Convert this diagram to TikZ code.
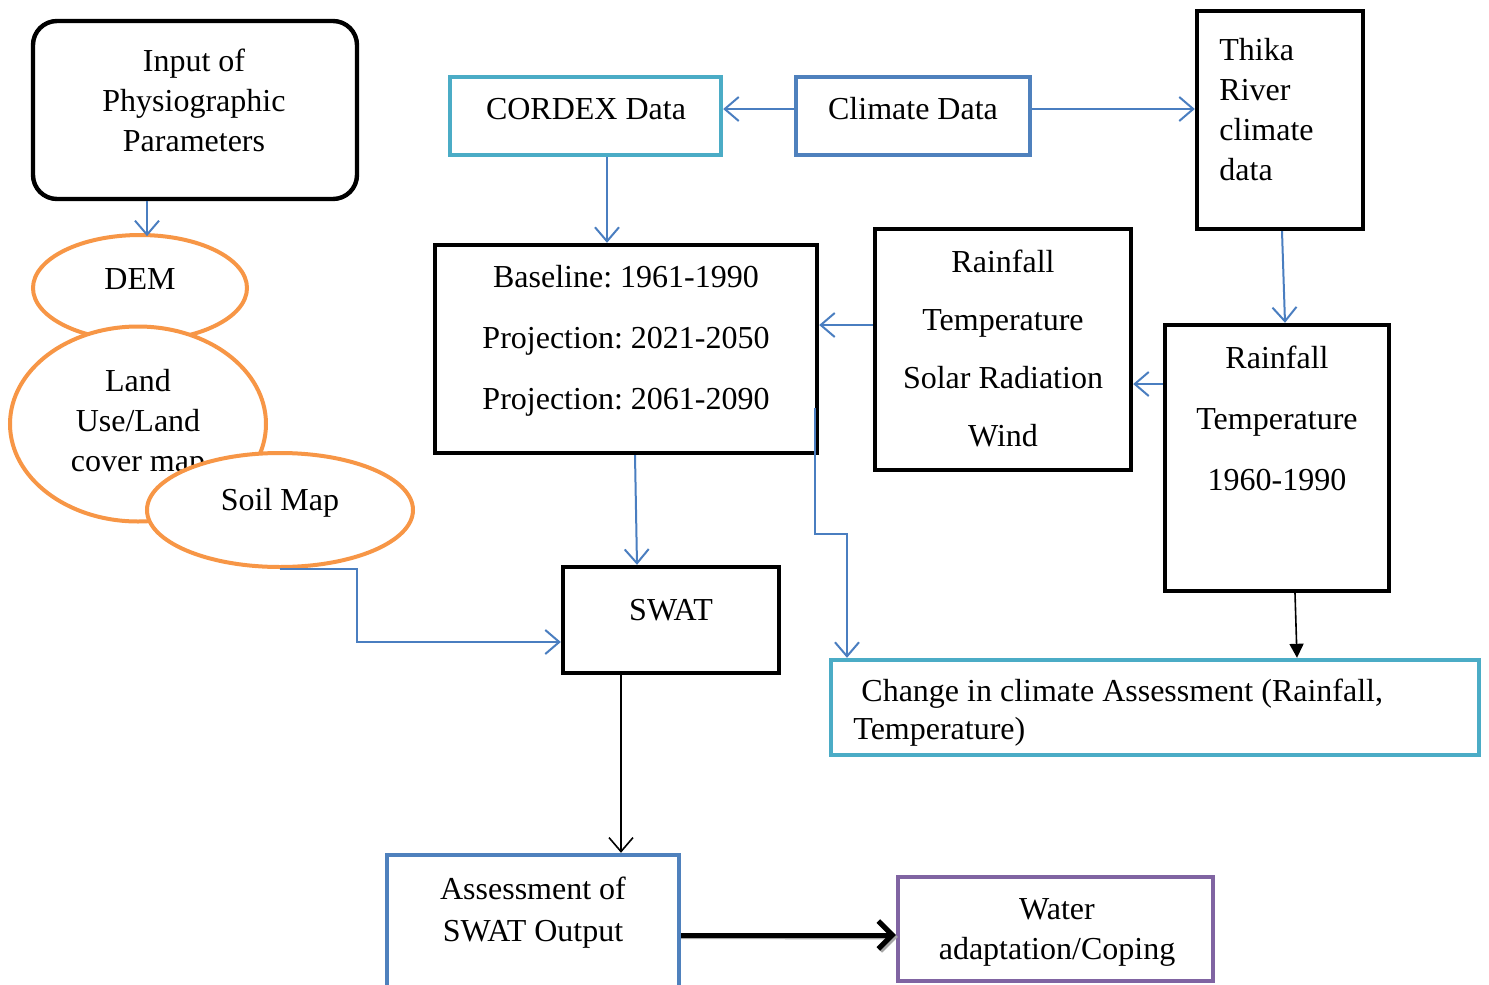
\documentclass[tikz,border=0pt]{standalone}
\usepackage{fontspec}
\setmainfont{Liberation Serif}
\usetikzlibrary{arrows.meta,shapes.geometric,fit,calc}
\definecolor{cyanb}{HTML}{4BACC6}
\definecolor{blueb}{HTML}{4F81BD}
\definecolor{orangeb}{HTML}{F79646}
\definecolor{purpleb}{HTML}{8064A2}
\definecolor{arrowblue}{HTML}{4A7EC0}
\frenchspacing
\begin{document}
\begin{tikzpicture}[x=0.5pt,y=-0.5pt,
  every node/.style={font=\fontsize{16}{20}\selectfont},
  box/.style={draw=#1, line width=2.2pt, inner sep=0pt, fill=white},
  ell/.style={draw=orangeb, line width=2pt, ellipse, fill=white, inner sep=0pt, align=center},
  txt/.style={inner sep=0pt, align=center},
  barrow/.style={draw=arrowblue, line width=1pt, -{Straight Barb[length=7pt,width=12pt,line width=1pt]}},
  karrow/.style={draw=black, line width=0.8pt, -{Straight Barb[length=7pt,width=12pt,line width=0.8pt]}},
  tarrow/.style={draw=black, line width=0.8pt, -{Triangle[length=7pt,width=7pt]}},
  bigarrow/.style={draw=#1, line width=2.5pt, -{Straight Barb[length=7pt,width=14pt,line width=2.5pt]}}
]
\useasboundingbox (0,0) rectangle (1489,985);
\clip (0,0) rectangle (1489,985);

% left column
\node[box=black, rounded corners=12pt, fit={(33,21)(357,199)}] (input) {};
\node[txt] (inputT) at (194,100) {Input of\\Physiographic\\Parameters};

\node[ell, minimum width=107pt, minimum height=53pt] (dem) at (140,288) {};
\node[txt] (demT) at (140,279) {DEM};
\node[ell, minimum width=128pt, minimum height=97.5pt] (land) at (138,424) {Land\\Use/Land\\cover map};
\node[ell, minimum width=133pt, minimum height=57pt] (soil) at (280,510) {};
\node[txt] (soilT) at (280,503) {Soil Map};

% top boxes
\node[box=cyanb, fit={(450,77)(721,155)}] (cordex) {};
\node[txt] (cordexT) at (586,109) {CORDEX Data};
\node[box=blueb, fit={(796,77)(1030,155)}] (climate) {};
\node[txt] (climateT) at (913,109) {Climate Data};
\node[box=black, fit={(1197,11)(1363,229)}] (thika) {};
\node[txt, anchor=west, align=left] (thikaT) at (1219,110) {Thika\\River\\climate\\data};

% middle boxes
\node[box=black, fit={(435,245)(817,453)}] (base) {};
\node[txt, font=\fontsize{16}{30.5}\selectfont] (baseT) at (626,341) {Baseline: 1961-1990\\Projection: 2021-2050\\Projection: 2061-2090};
\node[box=black, fit={(875,229)(1131,470)}] (mid) {};
\node[txt, font=\fontsize{16}{29}\selectfont] (midT) at (1003,348) {Rainfall\\Temperature\\Solar Radiation\\Wind};
\node[box=black, fit={(1165,325)(1389,591)}] (right) {};
\node[txt, font=\fontsize{16}{30.5}\selectfont] (rightT) at (1277,418) {Rainfall\\Temperature\\1960-1990};

% lower boxes
\node[box=black, fit={(563,567)(779,673)}] (swat) {};
\node[txt] (swatT) at (671,610) {SWAT};
\node[box=cyanb, fit={(831,660)(1479,755)}] (change) {};
\node[txt, anchor=west, align=left, font=\fontsize{16}{19}\selectfont] (changeT) at (853,713) {\ Change in climate Assessment (Rainfall,\\Temperature)};
\node[box=blueb, fit={(387,855)(679,1000)}] (assess) {};
\node[txt, font=\fontsize{16}{21}\selectfont] (assessT) at (533,913) {Assessment of\\SWAT Output};
\node[box=purpleb, fit={(898,877)(1213,981)}] (water) {};
\node[txt] (waterT) at (1057,932) {Water\\adaptation/Coping};

% connectors
\draw[barrow] ([xshift=-24pt]input.south) -- ++(0,35);
\draw[barrow] (soil.south) -- ++(77,0) |- ([yshift=-11pt]swat.west);
\draw[barrow] ([yshift=3.5pt]climate.west) -- ([yshift=3.5pt]cordex.east);
\draw[barrow] ([yshift=3.5pt]climate.east) -- ([yshift=5.5pt]thika.west);
\draw[barrow] ([xshift=10.75pt]cordex.south) -- ([xshift=-9.5pt]base.north);
\draw[barrow] ([yshift=12.25pt]mid.west) -- ([yshift=12pt]base.east);
\draw[barrow] ([xshift=1pt]thika.south) -- ([xshift=4pt]right.north);
\draw[barrow] ([yshift=37pt]right.west) -- ([yshift=-17.25pt]mid.east);
\draw[tarrow] ([xshift=9pt]right.south) -- ([xshift=71pt]change.north);
\draw[barrow] ([xshift=4.5pt]base.south) -- ([xshift=-17pt]swat.north);
\draw[barrow] ([shift={(-2pt,-29.5pt)}]base.east) -- ++(0,126) -| ([xshift=-154pt]change.north);
\draw[karrow] ([xshift=-25pt]swat.south) -- ([xshift=44pt]assess.north);
\draw[bigarrow=gray!70] ([shift={(0pt,-4.5pt)}]assess.east) -- ([shift={(1pt,-4pt)}]water.west);
\draw[bigarrow=black] ([yshift=-3.75pt]assess.east) -- ([yshift=-3pt]water.west);
\end{tikzpicture}
\end{document}
